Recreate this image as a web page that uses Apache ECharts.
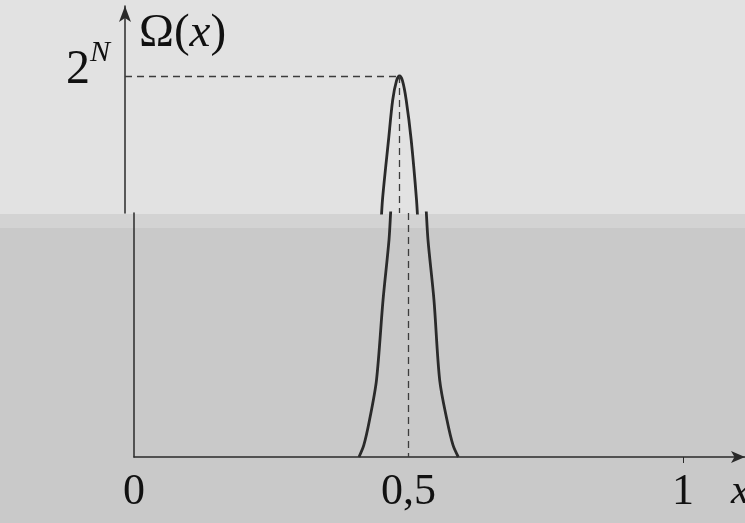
<!doctype html>
<html lang="en">
<head>
    <meta charset="UTF-8">
    <title>Omega(x)</title>
    <script src="https://cdn.jsdelivr.net/npm/echarts@6.0.0/dist/echarts.min.js"></script>
    <style>
        html, body { margin: 0; padding: 0; }
        #chart { width: 745px; height: 523px; }
    </style>
</head>
<body>
<div id="chart"></div>
<script>
    // curve, x in [0,1], height in units of 2^N
    const curveX = [0.4098, 0.4186, 0.4290, 0.4417, 0.4536, 0.4645, 0.4690, 0.4800, 0.4876, 0.4945, 0.5000,
                    0.5055, 0.5122, 0.5213, 0.5310, 0.5355, 0.5464, 0.5568, 0.5701, 0.5811, 0.5907]
    const curveY = [0, 0.031, 0.097, 0.202, 0.412, 0.570, 0.675, 0.832, 0.937, 0.987, 1,
                    0.987, 0.937, 0.832, 0.675, 0.570, 0.412, 0.202, 0.097, 0.031, 0]
    const xTicks = [0, 0.5, 1]
    const xTickLabels = ['0', '0,5', '1']
    const peakX = 0.5
    const peakY = 1

    const points = curveX.map((x, i) => [x, curveY[i]])

    // the scan is torn: upper strip sits a few pixels left of the lower one
    const PX = 381          // pixels per unit of 2^N
    const split = 244 / PX  // value where the upper strip starts
    const xMax = 611 / 549

    const ink = '#2a2a2a'
    const serif = '"Liberation Serif", "DejaVu Serif", serif'
    const dash = {type: [7, 5], color: '#3c3c3c', width: 1.3}

    const chart = echarts.init(document.getElementById('chart'))
    const option = {
        animation: false,
        backgroundColor: '#c9c9c9',
        graphic: [
            {type: 'rect', z: -10, shape: {x: 0, y: 0, width: 745, height: 214}, style: {fill: '#e2e2e2'}},
            {type: 'rect', z: -10, shape: {x: 0, y: 214, width: 745, height: 14}, style: {fill: '#d3d3d3'}}
        ],
        grid: [
            {left: 125, width: 611, top: 6, height: 207, outerBoundsMode: 'none'},   // upper strip
            {left: 134, width: 611, top: 213, height: 244, outerBoundsMode: 'none'}  // lower strip
        ],
        xAxis: [
            {type: 'value', gridIndex: 0, min: 0, max: xMax, show: false},
            {
                type: 'value', gridIndex: 1, min: 0, max: xMax,
                splitLine: {show: false},
                axisLine: {lineStyle: {color: ink, width: 1.5}, symbol: ['none', 'arrow'], symbolSize: [9, 14]},
                axisTick: {customValues: [1], length: 6, lineStyle: {color: ink}},
                axisLabel: {
                    customValues: xTicks,
                    formatter: v => xTickLabels[xTicks.indexOf(v)],
                    margin: 13, color: '#111', fontFamily: serif, fontSize: 44
                },
                name: 'x', nameLocation: 'end', nameGap: -14,
                nameTextStyle: {fontFamily: serif, fontStyle: 'italic', fontSize: 42, color: '#111',
                    verticalAlign: 'top', padding: [14, 0, 0, 0]}
            }
        ],
        yAxis: [
            {
                type: 'value', gridIndex: 0, min: split, max: split + 207 / PX,
                splitLine: {show: false},
                axisLine: {show: true, lineStyle: {color: ink, width: 1.5}, symbol: ['none', 'arrow'], symbolSize: [9, 16]},
                axisTick: {show: false},
                axisLabel: {
                    customValues: [peakY],
                    formatter: () => '{b|2}{s|N}',
                    margin: 15,
                    padding: [0, 0, 12, 0],
                    rich: {
                        b: {fontFamily: serif, fontSize: 48, color: '#111'},
                        s: {fontFamily: serif, fontSize: 30, fontStyle: 'italic', color: '#111', padding: [0, 0, 34, 0]}
                    }
                },
                name: '{o|Ω(}{x|x}{o|)}', nameLocation: 'end', nameGap: -51,
                nameTextStyle: {
                    align: 'left', padding: [0, 0, 0, 14],
                    rich: {
                        o: {fontFamily: serif, fontSize: 47, color: '#111'},
                        x: {fontFamily: serif, fontSize: 47, fontStyle: 'italic', color: '#111'}
                    }
                }
            },
            {
                type: 'value', gridIndex: 1, min: 0, max: split,
                splitLine: {show: false},
                axisLine: {show: true, lineStyle: {color: ink, width: 1.5}},
                axisTick: {show: false},
                axisLabel: {show: false}
            }
        ],
        series: [
            {
                type: 'line', xAxisIndex: 0, yAxisIndex: 0, data: points,
                showSymbol: false, smooth: 0.3,
                lineStyle: {color: ink, width: 2.8},
                markLine: {
                    silent: true, symbol: 'none', label: {show: false}, lineStyle: dash,
                    data: [
                        [{coord: [0, peakY]}, {coord: [peakX, peakY]}],
                        [{coord: [peakX, peakY]}, {coord: [peakX, split]}]
                    ]
                }
            },
            {
                type: 'line', xAxisIndex: 1, yAxisIndex: 1, data: points,
                showSymbol: false, smooth: 0.3,
                lineStyle: {color: ink, width: 2.8},
                markLine: {
                    silent: true, symbol: 'none', label: {show: false}, lineStyle: dash,
                    data: [
                        [{coord: [peakX, split]}, {coord: [peakX, 0]}]
                    ]
                }
            }
        ]
    }
    chart.setOption(option)
</script>
</body>
</html>
